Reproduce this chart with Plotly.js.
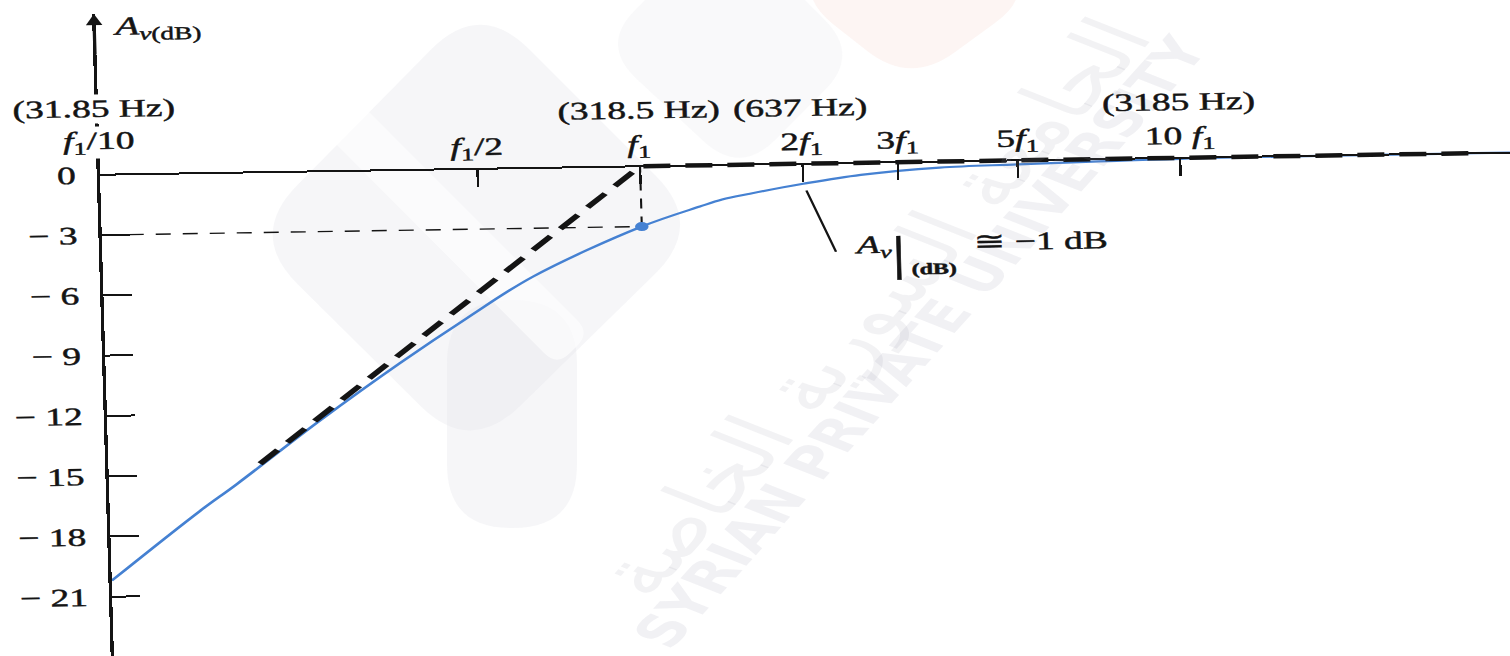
<!DOCTYPE html>
<html>
<head>
<meta charset="utf-8">
<script src="https://cdn.plot.ly/plotly-3.0.1.min.js"></script>
<style>
  html, body { margin: 0; padding: 0; background: #ffffff; width: 1510px; height: 656px; overflow: hidden; }
  #chart { position: absolute; left: 0; top: 0; width: 1040px; height: 662px; transform-origin: 100px 175px; }
</style>
</head>
<body>
<div id="chart"></div>
<script>
// Low-frequency response of an RC-coupled stage, f1 = 318.5 Hz (log frequency axis, gain in dB)
const F_LOW = 31.85;        // f1/10, where the gain axis stands
const F_HIGH = 13000;       // right end of the frequency axis

// frequency ticks and their labels
const tickHz = [159.25, 318.5, 637, 955.5, 1592.5, 3185];
const tickLabelHz = [31.85, 159.25, 318.5, 637, 955.5, 1592.5, 3185];
const tickLabels = ['<i>f</i><sub>1</sub>/10', '<i>f</i><sub>1</sub>/2', '<i>f</i><sub>1</sub>',
                    '2<i>f</i><sub>1</sub>', '3<i>f</i><sub>1</sub>', '5<i>f</i><sub>1</sub>', '10 <i>f</i><sub>1</sub>'];
const hzNoteAt = [31.85, 318.5, 637, 3185];
const hzNotes = ['(31.85 Hz)', '(318.5 Hz)', '(637 Hz)', '(3185 Hz)'];

// gain ticks
const dbTicks = [0, -3, -6, -9, -12, -15, -18, -21];
const dbTickText = ['0', '\u2212 3', '\u2212 6', '\u2212 9', '\u2212 12', '\u2212 15', '\u2212 18', '\u2212 21'];

// actual response
const curveHz = [31.85, 46.8, 54.9, 78.9, 111.8, 149.9, 199.3, 318.5, 409, 450, 507, 637, 815, 1141, 1592.5, 3185, 13000];
const curveDb = [-20.2, -16.8, -15.5, -12.4, -9.6, -7.4, -5.4, -3.0, -2.05, -1.72, -1.45, -1.0, -0.6, -0.3, -0.2, -0.05, 0];

// straight-line (Bode) asymptotes
const asymHz = [60.8, 318.5, 11550];
const asymDb = [-14.5, 0, 0];

// -3 dB guide to the corner frequency
const guideHz = [31.85, 318.5, 318.5];
const guideDb = [-3, -3, 0];

// marked point on the response
const cornerHz = [318.5];
const cornerDb = [-3];

// the note at 2f1
const noteHz = 637;
const noteDb = -1;

const INK = '#141414';
const BLUE = '#4581d2';
const SERIF = '"Liberation Serif", "Times New Roman", serif';
const lg = Math.log10;

// page geometry: plot area inside the figure and the sheet's stretch/tilt
const PLOT = { left: 100, top: 14, w: 940, h: 643 };
const SHEET = { sx: 1.5, ky: -0.02355, kx: 0.029, ox: 100, oy: 175 };

// sheet point -> paper fraction (inverse of the page transform)
function toPaper(p) {
  const det = SHEET.sx - SHEET.kx * SHEET.ky;
  const dx = p[0] - SHEET.ox, dy = p[1] - SHEET.oy;
  const lx = (dx - SHEET.kx * dy) / det;
  const ly = (-SHEET.ky * dx + SHEET.sx * dy) / det;
  const X = SHEET.ox + lx, Y = SHEET.oy + ly;
  return [((X - PLOT.left) / PLOT.w).toFixed(5), ((PLOT.top + PLOT.h - Y) / PLOT.h).toFixed(5)];
}
function roundedPath(pts, r) {
  const n = pts.length;
  let d = '';
  for (let i = 0; i < n; i++) {
    const v = pts[i], p = pts[(i + n - 1) % n], q = pts[(i + 1) % n];
    const lp = Math.hypot(p[0] - v[0], p[1] - v[1]), lq = Math.hypot(q[0] - v[0], q[1] - v[1]);
    const a = [v[0] + r * (p[0] - v[0]) / lp, v[1] + r * (p[1] - v[1]) / lp];
    const b = [v[0] + r * (q[0] - v[0]) / lq, v[1] + r * (q[1] - v[1]) / lq];
    const A = toPaper(a), V = toPaper(v), B = toPaper(b);
    d += (i === 0 ? 'M' : 'L') + A[0] + ',' + A[1] + ' Q' + V[0] + ',' + V[1] + ' ' + B[0] + ',' + B[1] + ' ';
  }
  return d + 'Z';
}
const markShape = (pts, r, color) => ({ type: 'path', xref: 'paper', yref: 'paper', layer: 'below',
  path: roundedPath(pts, r), fillcolor: color, line: { width: 0 } });

// faint emblem behind the chart
const shapes = [
  markShape([[248, 235], [480, 0], [705, 225], [470, 455]], 70, 'rgba(226,226,234,0.32)'),
  markShape([[447, 300], [577, 300], [577, 528], [447, 528]], 64, 'rgba(226,226,234,0.32)'),
  markShape([[352, 95], [385, 128], [590, 333], [557, 366], [322, 130]], 18, 'rgba(255,255,255,0.6)'),
  markShape([[600, 45], [725, -80], [860, 55], [740, 175]], 50, 'rgba(226,226,234,0.22)'),
  markShape([[790, -10], [905, -125], [1040, -10], [910, 85]], 55, 'rgba(247,205,196,0.2)')
];

const traces = [
  { x: guideHz, y: guideDb, mode: 'lines', line: { color: INK, width: 1.4, dash: '10px,8px' } },
  { x: curveHz, y: curveDb, mode: 'lines', line: { color: BLUE, width: 2.2, shape: 'spline', smoothing: 1 } },
  { x: asymHz, y: asymDb, mode: 'lines', line: { color: INK, width: 4.5, dash: '18px,10px' } },
  { x: cornerHz, y: cornerDb, mode: 'markers', marker: { color: BLUE, size: 9 } }
];

const ann = [];

// watermark lettering
ann.push({ xref: 'paper', yref: 'paper', x: 0.578, y: 0.47, text: 'SYRIAN PRIVATE UNIVERSITY', showarrow: false,
  textangle: -58, font: { family: 'DejaVu Sans', size: 43, color: 'rgba(150,150,168,0.13)', weight: 'bold' } });
ann.push({ xref: 'paper', yref: 'paper', x: 0.545, y: 0.525, text: 'الجامعة السورية الخاصة', showarrow: false,
  textangle: -58, font: { family: 'DejaVu Sans', size: 66, color: 'rgba(150,150,168,0.12)' } });
const WATERMARKS = 2;

// arrowhead on the gain axis and its title
ann.push({ xref: 'paper', yref: 'y', x: 0, y: 8, xshift: -1, ax: 0, ay: 42, text: '', showarrow: true,
  arrowhead: 2, arrowsize: 1, arrowwidth: 2.2, arrowcolor: INK });
ann.push({ xref: 'paper', yref: 'y', x: 0.01, y: 7.3, xanchor: 'left', yanchor: 'middle', showarrow: false,
  text: '<i>A</i><sub><i>v</i>(dB)</sub>', font: { size: 26 } });

// frequency labels above the axis
tickLabelHz.forEach((f, i) => {
  ann.push({ xref: 'x', yref: 'y', x: lg(f), y: i === 0 ? 1.6 : 1.0, text: tickLabels[i], showarrow: false,
    xanchor: 'center', yanchor: 'middle', bgcolor: i === 0 ? '#ffffff' : 'rgba(0,0,0,0)', borderpad: 0 });
});
hzNoteAt.forEach((f, i) => {
  ann.push({ xref: 'x', yref: 'y', x: lg(f), y: i === 0 ? 3.25 : 2.75, xshift: i === 0 ? -3 : 0, text: hzNotes[i],
    showarrow: false, xanchor: 'center', yanchor: 'middle', bgcolor: i === 0 ? '#ffffff' : 'rgba(0,0,0,0)', borderpad: 0 });
});

// leader and note at 2f1
ann.push({ xref: 'x', yref: 'y', x: lg(noteHz), y: noteDb, text: '', showarrow: true, arrowhead: 0, arrowwidth: 1.6,
  arrowcolor: INK, ax: 21, ay: 70, standoff: 7 });
ann.push({ xref: 'x', yref: 'y', x: lg(noteHz), y: noteDb, xshift: 31, yshift: -64, xanchor: 'left', yanchor: 'middle',
  showarrow: false, text: '<i>A</i><sub><i>v</i></sub>' });
ann.push({ xref: 'x', yref: 'y', x: lg(noteHz), y: noteDb, xshift: 63, yshift: -71, xanchor: 'center', yanchor: 'middle',
  showarrow: false, text: '|', font: { size: 48 } });
ann.push({ xref: 'x', yref: 'y', x: lg(noteHz), y: noteDb, xshift: 86, yshift: -87, xanchor: 'center', yanchor: 'middle',
  showarrow: false, text: '(dB)', font: { size: 16, weight: 'bold' } });
ann.push({ xref: 'x', yref: 'y', x: lg(noteHz), y: noteDb, xshift: 111, yshift: -61, xanchor: 'left', yanchor: 'middle',
  showarrow: false, text: '\u2245 \u2212' + Math.abs(noteDb) + ' dB' });

const layout = {
  width: 1040, height: 662, autosize: false,
  margin: { l: PLOT.left, r: 0, t: PLOT.top, b: 662 - PLOT.top - PLOT.h, pad: 0 },
  paper_bgcolor: '#ffffff', plot_bgcolor: 'rgba(0,0,0,0)',
  showlegend: false, hovermode: false,
  font: { family: SERIF, size: 25, color: INK },
  xaxis: {
    type: 'log', range: [lg(F_LOW), lg(F_HIGH)],
    anchor: 'free', position: 0.75,
    showline: true, linecolor: INK, linewidth: 2,
    ticks: 'outside', tickvals: tickHz, ticklen: 17, tickwidth: 1.6, tickcolor: INK,
    showticklabels: false, showgrid: false, zeroline: false
  },
  yaxis: {
    range: [-24, 8],
    showline: true, linecolor: INK, linewidth: 2.2,
    ticks: 'inside', tickvals: dbTicks, ticktext: dbTickText, ticklen: 18.7, tickwidth: 2, tickcolor: INK,
    ticklabelstandoff: 9, tickfont: { family: SERIF, size: 25, color: INK },
    showgrid: false, zeroline: false
  },
  shapes: shapes,
  annotations: ann
};

Plotly.newPlot('chart', traces, layout, { staticPlot: true, displayModeBar: false }).then(() => {
  const root = document.getElementById('chart');
  // heavier printed lettering for the chart text (the watermark stays thin)
  root.querySelectorAll('g.annotation, g.ytick').forEach(g => {
    const idx = g.getAttribute('data-index');
    if (g.classList.contains('annotation') && idx !== null && +idx < WATERMARKS) return;
    g.querySelectorAll('text').forEach(t => { t.style.stroke = INK; t.style.strokeWidth = '0.45px'; });
  });
  // page scan proportions: wide horizontally, slight tilt
  root.style.transform = 'matrix(' + [SHEET.sx, SHEET.ky, SHEET.kx, 1, 0, 0].join(',') + ')';
});
</script>
</body>
</html>
